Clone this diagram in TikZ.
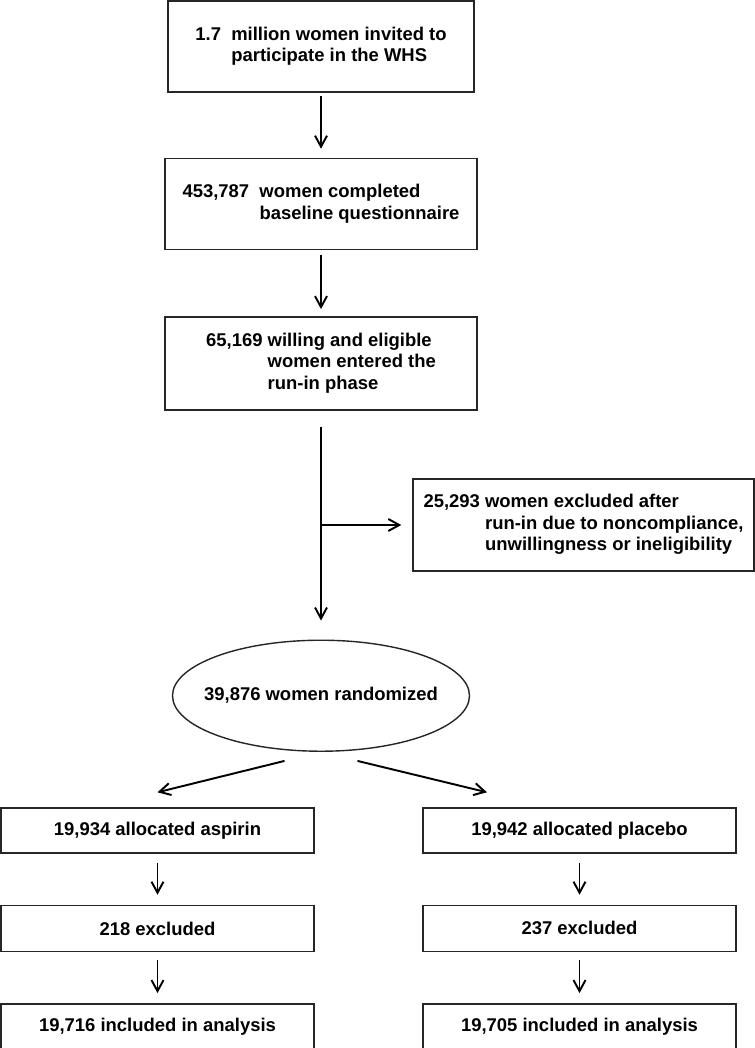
\documentclass[tikz,border=0pt]{standalone}
\usepackage{fontspec}
\setmainfont{Liberation Sans}
\usetikzlibrary{arrows.meta,positioning,shapes.geometric}

\begin{document}
\begin{tikzpicture}[
  box/.style={draw=black!85,line width=0.8pt,minimum width=6.24cm,
              minimum height=1.82cm,inner sep=0pt,
              font=\fontsize{10.5}{12.3}\selectfont\bfseries},
  sbox/.style={box,minimum width=6.26cm,minimum height=0.92cm},
  oval/.style={ellipse,draw=black!85,line width=0.8pt,minimum width=5.94cm,
               minimum height=2.22cm,inner sep=0pt,
               font=\fontsize{10.5}{12.3}\selectfont\bfseries},
  arr/.style={-{Straight Barb[length=2.2mm,width=2.4mm]},line width=1.1pt}
]
\useasboundingbox (0,0) rectangle (15.1,-20.96);
% screening
\node[box,minimum width=6.12cm] (invite) at (6.42,-0.93)
  {\begin{tabular}{@{}l@{\ \ }l@{}}1.7 & million women invited to\\ & participate in the WHS\end{tabular}};
\node[box,below=1.3cm of invite] (baseline)
  {\begin{tabular}{@{}l@{\ \ }l@{}}453,787 & women completed\\ & baseline questionnaire\end{tabular}};
\node[box,minimum height=1.86cm,below=1.32cm of baseline] (runin)
  {\begin{tabular}{@{}l@{\ }l@{}}65,169 & willing and eligible\\ & women entered the\\ & run-in phase\end{tabular}};
\node[box,minimum width=6.82cm,minimum height=1.84cm] (excl) at (11.67,-10.5)
  {\begin{tabular}{@{}l@{\ }l@{}}25,293 & women excluded after\\ & run-in due to noncompliance,\\ & unwillingness or ineligibility\end{tabular}};
\node[oval,below=4.58cm of runin] (rand) {\makebox[0pt]{39,876 women randomized}};
% two arms
\node[sbox,minimum height=0.9cm] (asp) at (3.15,-16.61) {19,934 allocated aspirin};
\node[sbox,below=1.02cm of asp] (aspex) {218 excluded};
\node[sbox,below=1.02cm of aspex] (aspan) {19,716 included in analysis};
\node[sbox,minimum height=0.9cm] (plac) at (11.59,-16.61) {19,942 allocated placebo};
\node[sbox,below=1.02cm of plac] (placex) {237 excluded};
\node[sbox,below=1.02cm of placex] (placan) {19,705 included in analysis};
\coordinate (split) at (runin.south |- excl.west);
\draw[arr,shorten <=0.06cm,shorten >=0.18cm] (invite) -- (baseline);
\draw[arr,shorten <=0.1cm,shorten >=0.14cm] (baseline) -- (runin);
\draw[arr,shorten <=0.32cm,shorten >=0.38cm] (runin) -- (rand);
\draw[arr,shorten >=0.22cm] (split) -- (excl);
\draw[arr] ([shift={(-0.73,-0.18)}]rand.south) -- ([yshift=0.3cm]asp.north);
\draw[arr] ([shift={(0.73,-0.18)}]rand.south) -- ([shift={(-1.85,0.3)}]plac.north);
\draw[arr,shorten <=0.18cm,shorten >=0.2cm] (asp) -- (aspex);
\draw[arr,shorten <=0.16cm,shorten >=0.2cm] (aspex) -- (aspan);
\draw[arr,shorten <=0.18cm,shorten >=0.2cm] (plac) -- (placex);
\draw[arr,shorten <=0.16cm,shorten >=0.2cm] (placex) -- (placan);
\end{tikzpicture}
\end{document}
